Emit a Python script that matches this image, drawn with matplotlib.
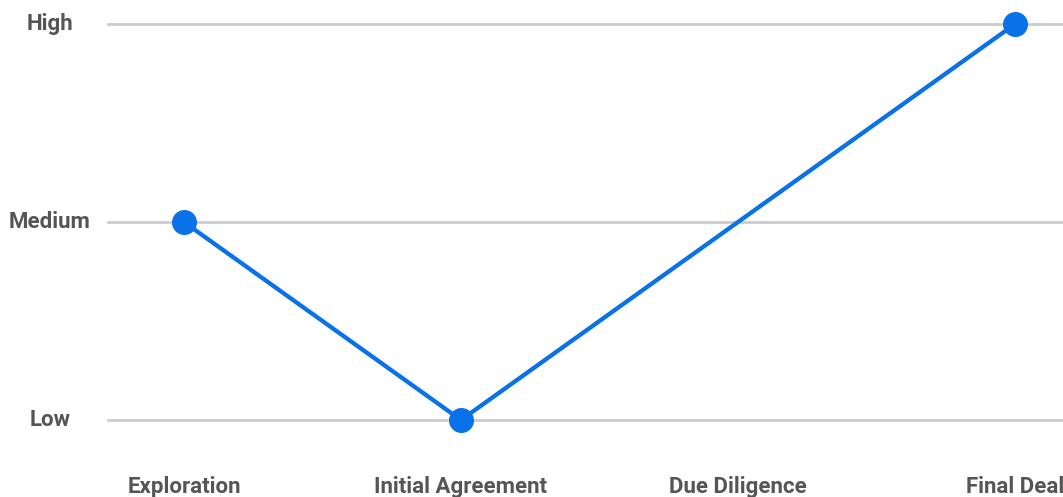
import matplotlib
matplotlib.use('Agg')
import matplotlib.pyplot as plt
import matplotlib.transforms as mtransforms
import numpy as np

stages = ['Exploration', 'Initial Agreement', 'Due Diligence', 'Final Deal']
levels = [1, 0, None, 2]  # Due Diligence has no value, line spans the gap
level_names = ['Low', 'Medium', 'High']

plt.rcParams['font.family'] = ['Roboto', 'DejaVu Sans']

fig = plt.figure(figsize=(10.63, 4.97), dpi=100)
ax = fig.add_axes([108 / 1063, 77 / 497, 1 - 108 / 1063, 396 / 497])

x = np.array([i for i, v in enumerate(levels) if v is not None])
y = np.array([v for v in levels if v is not None])
ax.plot(x, y, color='#0a72e8', lw=3.1, marker='o', ms=17,
        clip_on=False, zorder=3)

ax.set_xlim(-0.274, 3.173)
ax.set_ylim(0, 2)
for v in range(len(level_names)):
    ax.axhline(v, color='#cccccc', lw=2.0, zorder=1, clip_on=False)

for s in ax.spines.values():
    s.set_visible(False)
ax.set_yticks([])
ax.set_xticks(range(len(stages)))
ax.set_xticklabels(stages, fontsize=16, fontweight='bold', color='#555555')
ax.tick_params(axis='x', length=0, pad=40)

trans = mtransforms.blended_transform_factory(fig.transFigure, ax.transData)
for v, name in enumerate(level_names):
    ax.text(50 / 1063, v, name, transform=trans, ha='center', va='center',
            fontsize=16, fontweight='bold', color='#555555')

fig.savefig('out.png', dpi=100)
